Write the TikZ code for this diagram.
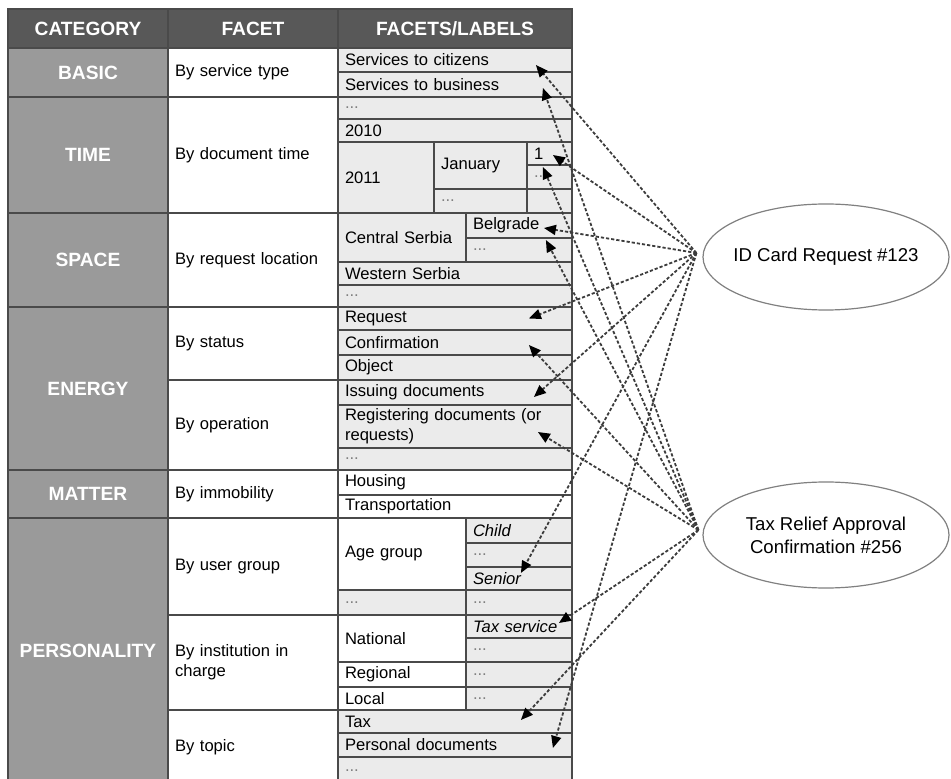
\documentclass[tikz,border=0pt]{standalone}
\usepackage{fontspec}
\setmainfont{Liberation Sans}
\usetikzlibrary{arrows.meta,shapes.geometric}
\definecolor{hdrgray}{HTML}{585858}
\definecolor{catgray}{HTML}{9A9A9A}
\definecolor{labgray}{HTML}{EBEBEB}
\definecolor{rulegray}{HTML}{4A4A4A}
\definecolor{linkgray}{HTML}{3C3C3C}
\newcommand\dotsgray{\textcolor{gray}{...}}
% table cell: [style]{name}{x1}{y1}{x2}{y2}{text}, in pixels
\newcommand\tcell[7][lab]{%
  \pgfmathsetmacro\cellw{(#5-#3)/2}%
  \pgfmathsetmacro\cellh{(#6-#4)/2}%
  \pgfmathsetmacro\cellt{(#5-#3)/2-7}%
  \node[#1,minimum width=\cellw pt,minimum height=\cellh pt,text width=\cellt pt]
    (#2) at ({(#3+#5)/2},{(#4+#6)/2}) {#7};}

\begin{document}
\begin{tikzpicture}[
  x=0.5pt, y=-0.5pt,
  >={Triangle[length=6pt,width=5pt,color=black]},
  cellbase/.style = {draw=rulegray,line width=0.9pt,inner xsep=3.5pt,inner ysep=0pt,
    align=left,font=\fontsize{8.3}{10}\selectfont},
  hdr/.style = {cellbase,fill=hdrgray,text=white,align=center,
    font=\bfseries\fontsize{9.6}{11}\selectfont},
  cat/.style = {cellbase,fill=catgray,text=white,align=center,
    font=\bfseries\fontsize{9.6}{11}\selectfont},
  fac/.style = {cellbase,fill=white},
  lab/.style = {cellbase,fill=labgray},
  labw/.style = {cellbase,fill=white},
  doc/.style = {ellipse,draw=gray,line width=0.6pt,fill=white,inner xsep=-3pt,
    minimum width=123pt,minimum height=53pt,align=center,
    font=\fontsize{9.3}{11.5}\selectfont},
  link/.style = {->,linkgray,line width=0.9pt,dash pattern=on 1.6pt off 1pt}
  ]
  \useasboundingbox (0,0) rectangle (951,779);
  % Header
  \tcell[hdr]{h-cat}{8}{9}{168}{48}{CATEGORY}
  \tcell[hdr]{h-fac}{168}{9}{338}{48}{FACET}
  \tcell[hdr]{h-lab}{338}{9}{572}{48}{FACETS/LABELS}
  % Categories
  \tcell[cat]{c-basic}{8}{48}{168}{97}{BASIC}
  \tcell[cat]{c-time}{8}{97}{168}{213}{TIME}
  \tcell[cat]{c-space}{8}{213}{168}{307}{SPACE}
  \tcell[cat]{c-energy}{8}{307}{168}{470}{ENERGY}
  \tcell[cat]{c-matter}{8}{470}{168}{518}{MATTER}
  \tcell[cat]{c-pers}{8}{518}{168}{784}{PERSONALITY}
  % Facets
  \tcell[fac]{f-type}{168}{48}{338}{97}{By service type}
  \tcell[fac]{f-time}{168}{97}{338}{213}{By document time}
  \tcell[fac]{f-loc}{168}{213}{338}{307}{By request location}
  \tcell[fac]{f-stat}{168}{307}{338}{380}{By status}
  \tcell[fac]{f-oper}{168}{380}{338}{470}{By operation}
  \tcell[fac]{f-immo}{168}{470}{338}{518}{By immobility}
  \tcell[fac]{f-user}{168}{518}{338}{615}{By user group}
  \tcell[fac]{f-inst}{168}{615}{338}{710}{By institution in\\charge}
  \tcell[fac]{f-topic}{168}{710}{338}{784}{By topic}
  % Labels: basic
  \tcell{cit}{338}{48}{572}{72}{Services to citizens}
  \tcell{bus}{338}{72}{572}{97}{Services to business}
  % Labels: time
  \tcell{t-dots}{338}{97}{572}{119}{\dotsgray}
  \tcell{t-2010}{338}{119}{572}{142}{2010}
  \tcell{t-2011}{338}{142}{434}{213}{2011}
  \tcell{jan}{434}{142}{527}{189}{January}
  \tcell{one}{527}{142}{572}{165}{1}
  \tcell{one-dots}{527}{165}{572}{189}{\dotsgray}
  \tcell{jan-dots}{434}{189}{527}{213}{\dotsgray}
  \tcell{jan-blank}{527}{189}{572}{213}{}
  % Labels: space
  \tcell{cser}{338}{213}{466}{262}{Central Serbia}
  \tcell{belg}{466}{213}{572}{238}{Belgrade}
  \tcell{belg-dots}{466}{238}{572}{262}{\dotsgray}
  \tcell{wser}{338}{262}{572}{285}{Western Serbia}
  \tcell{s-dots}{338}{285}{572}{307}{\dotsgray}
  % Labels: energy
  \tcell{req}{338}{307}{572}{330}{Request}
  \tcell{conf}{338}{330}{572}{355}{Confirmation}
  \tcell{obj}{338}{355}{572}{380}{Object}
  \tcell{iss}{338}{380}{572}{405}{Issuing documents}
  \tcell{reg}{338}{405}{572}{448}{Registering documents (or\\requests)}
  \tcell{e-dots}{338}{448}{572}{470}{\dotsgray}
  % Labels: matter
  \tcell[labw]{hous}{338}{470}{572}{495}{Housing}
  \tcell[labw]{trans}{338}{495}{572}{518}{Transportation}
  % Labels: personality
  \tcell[labw]{age}{338}{518}{466}{590}{Age group}
  \tcell{child}{466}{518}{572}{543}{\textit{Child}}
  \tcell{age-dots}{466}{543}{572}{567}{\dotsgray}
  \tcell{senior}{466}{567}{572}{590}{\textit{Senior}}
  \tcell{u-dots}{338}{590}{466}{615}{\dotsgray}
  \tcell{u-dots2}{466}{590}{572}{615}{\dotsgray}
  \tcell[labw]{natl}{338}{615}{466}{662}{National}
  \tcell{taxs}{466}{615}{572}{638}{\textit{Tax service}}
  \tcell{natl-dots}{466}{638}{572}{662}{\dotsgray}
  \tcell[labw]{regl}{338}{662}{466}{687}{Regional}
  \tcell{regl-dots}{466}{662}{572}{687}{\dotsgray}
  \tcell[labw]{locl}{338}{687}{466}{710}{Local}
  \tcell{locl-dots}{466}{687}{572}{710}{\dotsgray}
  \tcell{tax}{338}{710}{572}{733}{Tax}
  \tcell{pers}{338}{733}{572}{757}{Personal documents}
  \tcell{p-dots}{338}{757}{572}{784}{\dotsgray}
  % Documents
  \node[doc] (ida) at (826,257) {ID Card Request \#123};
  \node[doc] (tra) at (826,535) {Tax Relief Approval\\Confirmation \#256};
  \coordinate (ida-src) at ([xshift=-3pt,yshift=2pt]ida.west);
  \coordinate (tra-src) at ([xshift=-2pt,yshift=2.5pt]tra.west);
  % ID card request links
  \foreach \dst/\dx/\dy in {cit/-18.5/-2.5, one/-10/-0.75, belg/-14.5/-1.25,
      req/-22/0, iss/-19.5/-2.25, senior/-26/2.75, pers/-10/-1.5}
    \draw[link] (ida-src) -- ([xshift=\dx pt,yshift=\dy pt]\dst.east);
  % Tax relief links
  \foreach \dst/\dx/\dy in {bus/-15/-1.75, one-dots/-15/5, belg/-13.5/-7.25,
      conf/-22/-1.25, reg/-17.5/-2.75, taxs/-7/1.75, tax/-26/0.75}
    \draw[link] (tra-src) -- ([xshift=\dx pt,yshift=\dy pt]\dst.east);
\end{tikzpicture}
\end{document}
